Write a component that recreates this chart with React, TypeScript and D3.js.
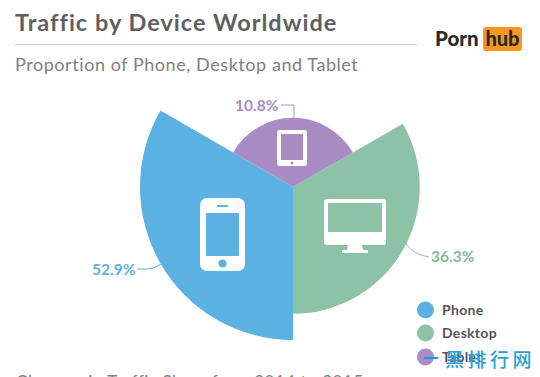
import React from "react";
import * as d3 from "d3";

const categories = ["Phone", "Desktop", "Tablet"];
const shares = [52.9, 36.3, 10.8];
const shareLabels = ["52.9%", "36.3%", "10.8%"];
const colors = ["#5ab1e2", "#8cc2a6", "#aa8cc5"];
const textColors = ["#5ab1e2", "#7fbb9c", "#aa8cc5"];
const startAngles = [Math.PI, Math.PI / 3, -Math.PI / 3];

const font = "Lato, 'Open Sans', sans-serif";

export default function App() {
  const cx = 293;
  const cy = 187;
  const r = d3.scaleSqrt().domain([0, 52.9]).range([0, 153]);
  const arc = d3.arc();
  const order = [0, 1, 2];
  const leg = [310, 333, 357];
  return (
    <svg width={540} height={377} style={{ position: "fixed", left: 0, top: 0, background: "#fff" }}>
      <text x={15} y={31} fontFamily={font} fontWeight={700} fontSize={23.5} fill="#5f5f5f" letterSpacing={1}>Traffic by Device Worldwide</text>
      <line x1={15} x2={417} y1={44.5} y2={44.5} stroke="#cfcfcf" strokeWidth={1} />
      <text x={15} y={71} fontFamily={font} fontWeight={400} fontSize={18} fill="#808080" letterSpacing={0.56}>Proportion of Phone, Desktop and Tablet</text>

      <text x={435} y={46} fontFamily={font} fontWeight={900} fontSize={20.5} fill="#2a2a2a">Porn</text>
      <rect x={483} y={27} width={39} height={24} rx={3} fill="#f7971d" />
      <text x={502.5} y={46} textAnchor="middle" fontFamily={font} fontWeight={900} fontSize={20} fill="#2a2a2a">hub</text>

      <g transform={`translate(${cx},${cy})`}>
        {order.map((i) => (
          <path
            key={categories[i]}
            d={arc({ innerRadius: 0, outerRadius: r(shares[i]), startAngle: startAngles[i], endAngle: startAngles[i] + (2 * Math.PI) / 3 }) as string}
            fill={colors[i]}
          />
        ))}
      </g>

      {/* tablet icon */}
      <rect x={277} y={130} width={30} height={36} rx={3} fill="#fff" />
      <rect x={281} y={134} width={22} height={26} fill={colors[2]} />
      <circle cx={292} cy={163} r={1.5} fill={colors[2]} />

      {/* phone icon */}
      <rect x={200} y={198} width={45} height={73} rx={7} fill="#fff" />
      <rect x={206} y={213} width={33} height={43} rx={1} fill={colors[0]} />
      <rect x={217} y={205} width={11} height={2} fill={colors[0]} />
      <circle cx={222.5} cy={263.5} r={4} fill={colors[0]} />

      {/* desktop icon */}
      <rect x={324} y={199} width={62} height={46} rx={3} fill="#fff" />
      <rect x={328} y={203} width={54} height={29} fill={colors[1]} />
      <path d="M348 245h14l1 5h5v3h-26v-3h5z" fill="#fff" />

      {/* leaders */}
      <path d="M281 105H294V119" fill="none" stroke={colors[2]} strokeWidth={1} />
      <path d="M137 269H147Q154 269 161 264" fill="none" stroke={colors[0]} strokeWidth={1} />
      <path d="M405 243Q414 255 429 257" fill="none" stroke={colors[1]} strokeWidth={1} />
      <text x={235} y={111} fontFamily={font} fontWeight={700} fontSize={15.5} fill={textColors[2]}>{shareLabels[2]}</text>
      <text x={92} y={275} fontFamily={font} fontWeight={700} fontSize={15.5} fill={textColors[0]}>{shareLabels[0]}</text>
      <text x={431} y={262} fontFamily={font} fontWeight={700} fontSize={15.5} fill={textColors[1]}>{shareLabels[1]}</text>

      {categories.map((c, i) => (
        <g key={c}>
          <circle cx={425.5} cy={leg[i]} r={8.5} fill={colors[i]} />
          <text x={442} y={leg[i] + 5} fontFamily={font} fontWeight={700} fontSize={14} fill="#555" letterSpacing={0.3}>{c}</text>
        </g>
      ))}

      <text x={16} y={388} fontFamily={font} fontSize={17} fill="#808080" letterSpacing={0.52}>Changes in Traffic Share from 2014 to 2015</text>

      {/* watermark */}
      <path d="M424 358H438" stroke="#1e9bd7" strokeWidth={2} />
      <text x={445} y={367} fontFamily="'Noto Sans CJK SC'" fontWeight={500} fontSize={19} fill="#2b9fd8" letterSpacing={3.5}>黑排行网</text>
    </svg>
  );
}
